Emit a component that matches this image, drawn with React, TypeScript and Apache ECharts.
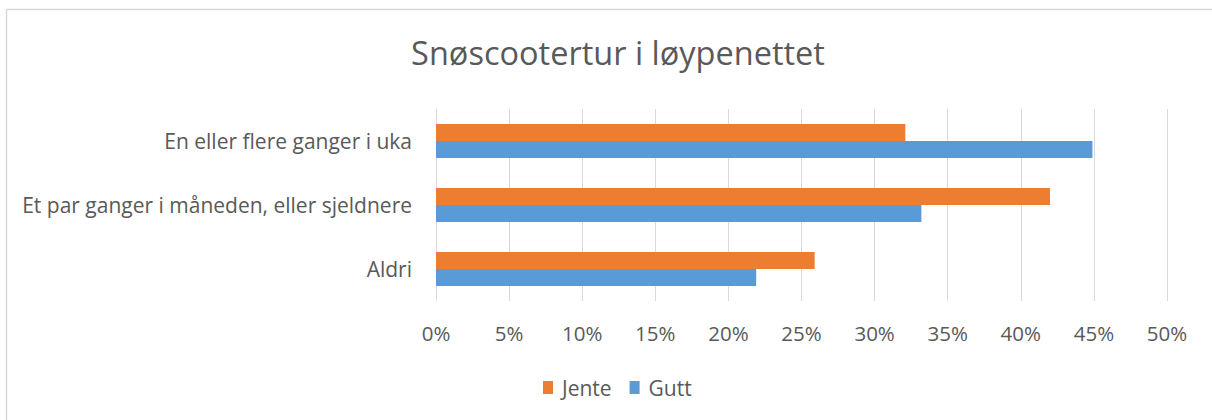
import React, { useEffect, useRef } from "react";
import * as echarts from "echarts";

const categories = [
  "En eller flere ganger i uka",
  "Et par ganger i måneden, eller sjeldnere",
  "Aldri",
];
const jente = [32.1, 42.0, 25.9];
const gutt = [44.9, 33.2, 21.9];
const seriesNames = ["Jente", "Gutt"];
const title = "Snøscootertur i løypenettet";

const FONT = "'Open Sans', sans-serif";
const TXT = "#595959";

export default function App() {
  const ref = useRef<HTMLDivElement>(null);
  useEffect(() => {
    if (!ref.current) return;
    const chart = echarts.init(ref.current, undefined, { renderer: "svg" });
    chart.setOption({
      animation: false,
      backgroundColor: "#ffffff",
      title: {
        text: title,
        left: 613,
        textAlign: "center",
        top: 31,
        textStyle: { fontFamily: FONT, fontSize: 32.5, fontWeight: "normal", color: TXT },
      },
      legend: {
        data: seriesNames,
        left: 538,
        top: 372,
        itemWidth: 10,
        itemHeight: 13,
        itemGap: 18,
        icon: "rect",
        textStyle: { fontFamily: FONT, fontSize: 21, color: TXT, padding: [0, 0, 0, 4] },
      },
      grid: { left: 436, right: 45, top: 109, height: 192, containLabel: false },
      xAxis: {
        type: "value",
        min: 0,
        max: 50,
        interval: 5,
        axisLine: { show: false },
        axisTick: { show: false },
        splitLine: { lineStyle: { color: "#d9d9d9", width: 1 } },
        axisLabel: {
          formatter: "{value}%",
          margin: 21,
          fontFamily: FONT,
          fontSize: 20.5,
          color: TXT,
        },
      },
      yAxis: {
        type: "category",
        data: categories,
        inverse: true,
        axisLine: { show: false },
        axisTick: { show: false },
        axisLabel: { margin: 24, fontFamily: FONT, fontSize: 21, color: TXT },
      },
      series: [
        {
          name: seriesNames[0],
          type: "bar",
          data: jente,
          itemStyle: { color: "#ED7D31" },
          barGap: "0%",
          barCategoryGap: "47%",
        },
        {
          name: seriesNames[1],
          type: "bar",
          data: gutt,
          itemStyle: { color: "#5B9BD5" },
          barGap: "0%",
          barCategoryGap: "47%",
        },
      ],
      graphic: [
        {
          type: "line",
          shape: { x1: 6.5, y1: 9.5, x2: 1212, y2: 9.5 },
          style: { stroke: "#d9d9d9", lineWidth: 1.5 },
        },
        {
          type: "line",
          shape: { x1: 6.5, y1: 9.5, x2: 6.5, y2: 420 },
          style: { stroke: "#d9d9d9", lineWidth: 1.5 },
        },
      ],
    });
    return () => chart.dispose();
  }, []);
  return (
    <div
      ref={ref}
      style={{ position: "fixed", left: 0, top: 0, width: 1212, height: 420 }}
    />
  );
}
